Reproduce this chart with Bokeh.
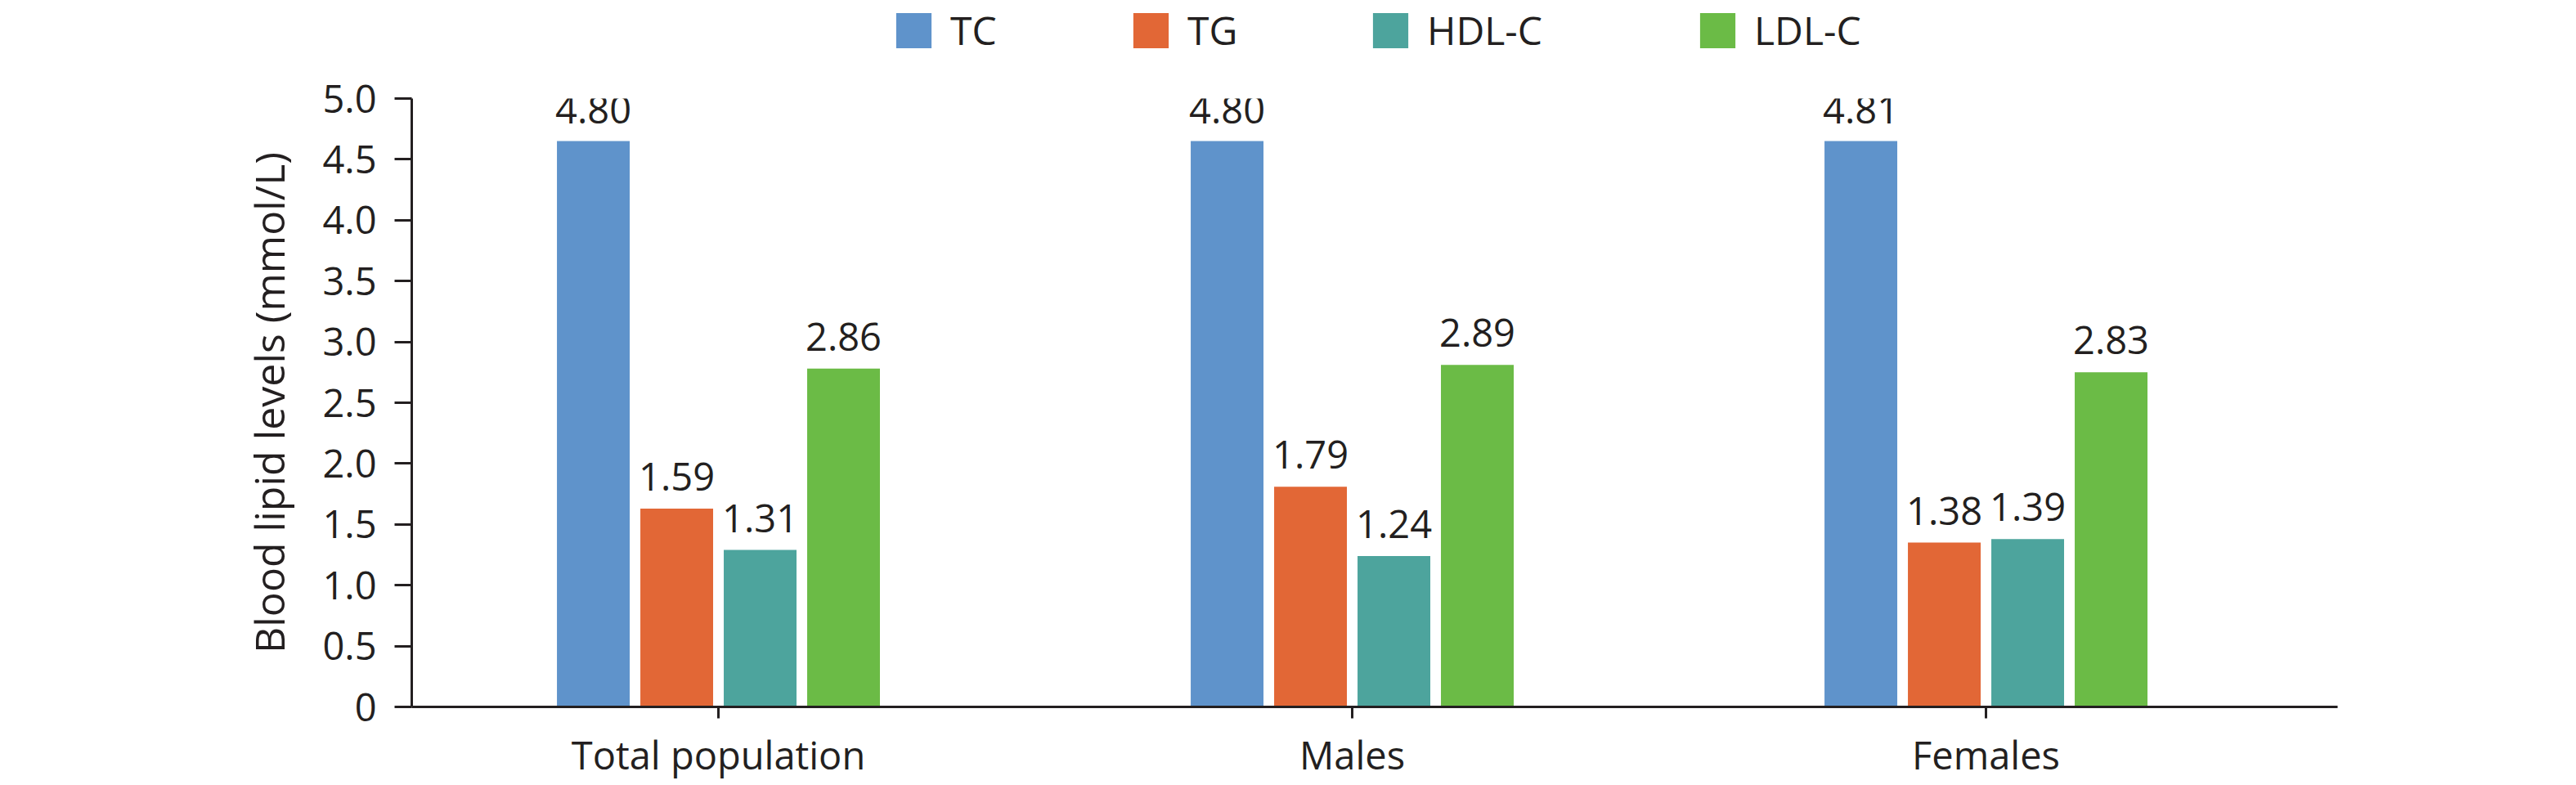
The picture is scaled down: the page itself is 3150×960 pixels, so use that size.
from bokeh.plotting import figure
from bokeh.layouts import column
from bokeh.models import ColumnDataSource, Legend, LegendItem, FixedTicker, Range1d, LabelSet
from bokeh.transform import dodge
from bokeh.core.properties import value
from bokeh.embed import file_html
from bokeh.resources import INLINE

# ---- data ----
groups = ["Total population", "Males", "Females"]
series = ["TC", "TG", "HDL-C", "LDL-C"]

# bar heights as drawn (mmol/L)
tc_bar = [4.65, 4.65, 4.65]
tg_bar = [1.63, 1.81, 1.35]
hdl_bar = [1.29, 1.24, 1.38]
ldl_bar = [2.78, 2.81, 2.75]

# value labels printed above the bars
tc_label = ["4.80", "4.80", "4.81"]
tg_label = ["1.59", "1.79", "1.38"]
hdl_label = ["1.31", "1.24", "1.39"]
ldl_label = ["2.86", "2.89", "2.83"]

y_ticks = [0, 0.5, 1.0, 1.5, 2.0, 2.5, 3.0, 3.5, 4.0, 4.5, 5.0]
y_tick_labels = ["0", "0.5", "1.0", "1.5", "2.0", "2.5", "3.0", "3.5", "4.0", "4.5", "5.0"]

colors = ["#5f93cb", "#e26736", "#4da49d", "#6bbb46"]
FONT = "Open Sans"
INK = "#231f20"

src = ColumnDataSource(dict(
    x=list(range(len(groups))),
    tc=tc_bar, tg=tg_bar, hdl=hdl_bar, ldl=ldl_bar,
    tcl=tc_label, tgl=tg_label, hdll=hdl_label, ldll=ldl_label,
))
bar_fields = ["tc", "tg", "hdl", "ldl"]
label_fields = ["tcl", "tgl", "hdll", "ldll"]

W = 3140
LEG_H = 72
MAIN_H = 888

# ---------- legend strip (frame aligned with the chart below) ----------
lf = figure(width=W, height=LEG_H, output_backend="svg", toolbar_location=None,
            x_axis_type=None, y_axis_type=None, min_border=0,
            y_range=Range1d(10, 11))
lf.outline_line_color = None
lf.background_fill_color = "white"
lf.border_fill_color = "white"
legend_x = [587, 877, 1170, 1570]   # legend entry positions (px from frame left)
for i, name in enumerate(series):
    r = lf.vbar(x="x", top=bar_fields[i], width=0.1, source=src,
                fill_color=colors[i], line_color=None)
    lg = Legend(items=[LegendItem(label=name, renderers=[r])],
                orientation="horizontal", location=(legend_x[i], 3),
                padding=0, margin=0, label_standoff=18,
                glyph_width=54, glyph_height=54,
                label_text_font=FONT, label_text_font_size="48px",
                label_text_color=INK,
                border_line_color=None, background_fill_alpha=0)
    lf.add_layout(lg)

# ---------- chart ----------
p = figure(width=W, height=MAIN_H,
           x_range=Range1d(-0.4839, 2.5548), y_range=Range1d(0, 5),
           output_backend="svg", toolbar_location=None,
           min_border_left=503, min_border_right=W - 2858,
           min_border_top=120 - LEG_H, min_border_bottom=96)
p.outline_line_color = None
p.background_fill_color = "white"
p.border_fill_color = "white"
p.xgrid.visible = False
p.ygrid.visible = False

pitch = 0.1316
bw = 0.1148
offsets = [-1.5 * pitch, -0.5 * pitch, 0.5 * pitch, 1.5 * pitch]

for i, name in enumerate(series):
    p.vbar(x=dodge("x", offsets[i], range=p.x_range), top=bar_fields[i],
           width=bw, source=src, fill_color=colors[i], line_color=None)
    labels = LabelSet(x=dodge("x", offsets[i], range=p.x_range), y=bar_fields[i],
                      text=label_fields[i], source=src, y_offset=22,
                      text_align="center", text_baseline="alphabetic",
                      text_font=value(FONT), text_font_size=value("47px"),
                      text_color=value(INK))
    p.add_layout(labels)

# x axis
xa = p.xaxis[0]
xa.ticker = FixedTicker(ticks=list(range(len(groups))))
xa.major_label_overrides = {i: g for i, g in enumerate(groups)}
xa.axis_line_width = 3
xa.axis_line_color = INK
xa.major_tick_line_width = 3
xa.major_tick_line_color = INK
xa.major_tick_in = 0
xa.major_tick_out = 14
xa.minor_tick_line_color = None
xa.major_label_standoff = 12
xa.major_label_text_font = FONT
xa.major_label_text_font_size = "47px"
xa.major_label_text_color = INK

# y axis
ya = p.yaxis[0]
ya.ticker = FixedTicker(ticks=y_ticks)
ya.major_label_overrides = {t: l for t, l in zip(y_ticks, y_tick_labels)}
ya.axis_line_width = 3
ya.axis_line_color = INK
ya.major_tick_line_width = 3
ya.major_tick_line_color = INK
ya.major_tick_in = 0
ya.major_tick_out = 21
ya.minor_tick_line_color = None
ya.major_label_standoff = 22
ya.major_label_text_font = FONT
ya.major_label_text_font_size = "47px"
ya.major_label_text_color = INK
ya.axis_label = "Blood lipid levels (mmol/L)"
ya.axis_label_text_font = FONT
ya.axis_label_text_font_size = "50px"
ya.axis_label_text_font_style = "normal"
ya.axis_label_text_color = INK
ya.axis_label_standoff = 28

layout = column(lf, p, spacing=0)
open("out.html", "w").write(file_html(layout, INLINE))
